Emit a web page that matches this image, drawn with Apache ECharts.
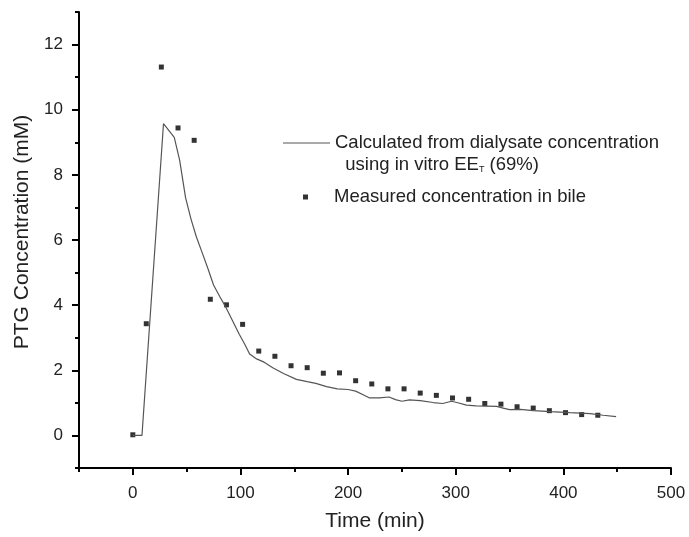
<!DOCTYPE html>
<html>
<head>
<meta charset="utf-8">
<script src="https://cdn.jsdelivr.net/npm/echarts@6/dist/echarts.min.js"></script>
<style>
html,body{margin:0;padding:0;background:#fff;}
#chart{width:689px;height:537px;}
</style>
</head>
<body>
<div id="chart"></div>
<script>
// Calculated from dialysate concentration (line): [time (min), PTG (mM)]
var calcTime = [0, 8.5, 28.5, 38.5, 43.5, 49, 54, 59, 64, 70, 75, 81, 87, 93, 99, 104, 108.5, 115, 122, 130, 140, 152, 162, 170, 180, 190, 200, 207, 214, 220, 229, 238, 244, 250, 257, 267, 279, 288, 296, 301, 310, 319, 338, 344, 350, 360, 372, 388, 406, 425, 437, 449];
var calcConc = [0, 0, 9.57, 9.15, 8.45, 7.3, 6.65, 6.1, 5.65, 5.1, 4.62, 4.25, 3.9, 3.5, 3.1, 2.8, 2.5, 2.35, 2.25, 2.08, 1.9, 1.72, 1.65, 1.6, 1.5, 1.43, 1.41, 1.36, 1.25, 1.15, 1.15, 1.18, 1.1, 1.05, 1.09, 1.07, 1.01, 0.98, 1.05, 1.01, 0.93, 0.91, 0.89, 0.84, 0.79, 0.8, 0.76, 0.73, 0.7, 0.67, 0.62, 0.58];

// Measured concentration in bile (squares)
var bileTime = [0, 12.5, 26.5, 42, 57, 72, 87, 102, 117, 132, 147, 162, 177, 192, 207, 222, 237, 252, 267, 282, 297, 312, 327, 342, 357, 372, 387, 402, 417, 432];
var bileConc = [0.02, 3.43, 11.31, 9.44, 9.06, 4.18, 4.01, 3.41, 2.59, 2.43, 2.14, 2.08, 1.91, 1.92, 1.68, 1.58, 1.43, 1.43, 1.30, 1.23, 1.15, 1.11, 0.98, 0.96, 0.88, 0.84, 0.76, 0.70, 0.64, 0.62];

var xMajorLabels = [0, 100, 200, 300, 400, 500];
var yMajorLabels = [0, 2, 4, 6, 8, 10, 12];

var calcName = 'Calculated from dialysate concentration';
var bileName = 'Measured concentration in bile';

function pairs(xs, ys) { return xs.map(function (x, i) { return [x, ys[i]]; }); }

var FONT = '"Liberation Sans", Arial, sans-serif';
var chart = echarts.init(document.getElementById('chart'));
var axisCommon = {
  type: 'value',
  splitLine: { show: false },
  axisLine: { show: true, onZero: false, lineStyle: { color: '#000', width: 2 } }
};
chart.setOption({
  backgroundColor: '#fff',
  animation: false,
  textStyle: { fontFamily: FONT },
  grid: { left: 79, right: 18, top: 12, bottom: 69, containLabel: false },
  xAxis: [
    Object.assign({}, axisCommon, {
      min: -50, max: 500, interval: 50,
      axisTick: { show: true, length: 4, lineStyle: { color: '#000', width: 2 } },
      axisLabel: { show: true, customValues: xMajorLabels, margin: 17, fontSize: 17, color: '#222', fontFamily: FONT },
      name: 'Time (min)', nameLocation: 'middle', nameGap: 43,
      nameTextStyle: { fontSize: 21, color: '#222', fontFamily: FONT }
    }),
    Object.assign({}, axisCommon, {
      position: 'bottom', min: -50, max: 500, interval: 50,
      axisLine: { show: false, onZero: false },
      axisTick: { show: true, customValues: xMajorLabels, length: 7, lineStyle: { color: '#000', width: 2 } },
      axisLabel: { show: false }
    })
  ],
  yAxis: [
    Object.assign({}, axisCommon, {
      min: -1, max: 13, interval: 1,
      axisTick: { show: true, length: 4, lineStyle: { color: '#000', width: 2 } },
      axisLabel: { show: true, customValues: yMajorLabels, margin: 16, fontSize: 17, color: '#222', fontFamily: FONT },
      name: 'PTG Concentration (mM)', nameLocation: 'middle', nameGap: 46,
      nameTextStyle: { fontSize: 21, color: '#222', fontFamily: FONT, padding: [0, 0, 0, 16] }
    }),
    Object.assign({}, axisCommon, {
      position: 'left', offset: 0, min: -1, max: 13, interval: 1,
      axisLine: { show: false, onZero: false },
      axisTick: { show: true, customValues: yMajorLabels, length: 7, lineStyle: { color: '#000', width: 2 } },
      axisLabel: { show: false }
    })
  ],
  legend: [
    {
      data: [{ name: calcName, icon: 'rect', itemStyle: { color: '#555' } }],
      left: 283, top: 110, padding: 0,
      itemWidth: 47, itemHeight: 1.2,
      formatter: function () {
        return 'Calculated from dialysate concentration\n  using in vitro EE{sub|T} (69%)';
      },
      textStyle: {
        fontSize: 18.5, color: '#222', fontFamily: FONT, lineHeight: 22,
        padding: [22, 0, 0, 0],
        rich: { sub: { fontSize: 9, color: '#222', fontFamily: FONT, padding: [9, 0, 0, 0] } }
      }
    },
    {
      data: [{ name: bileName, icon: 'rect', itemStyle: { color: '#000' } }],
      left: 303, top: 186, padding: 0,
      itemWidth: 5, itemHeight: 5,
      textStyle: { fontSize: 18.5, color: '#222', fontFamily: FONT, lineHeight: 22, padding: [0, 0, 0, 21] }
    }
  ],
  series: [
    {
      name: calcName, type: 'line', xAxisIndex: 0, yAxisIndex: 0,
      data: pairs(calcTime, calcConc),
      symbol: 'none', smooth: false,
      lineStyle: { color: '#555', width: 1.2 },
      itemStyle: { color: '#555' }
    },
    {
      name: bileName, type: 'scatter', xAxisIndex: 0, yAxisIndex: 0,
      data: pairs(bileTime, bileConc),
      symbol: 'rect', symbolSize: 5,
      itemStyle: { color: '#000' }
    }
  ]
});
</script>
</body>
</html>
